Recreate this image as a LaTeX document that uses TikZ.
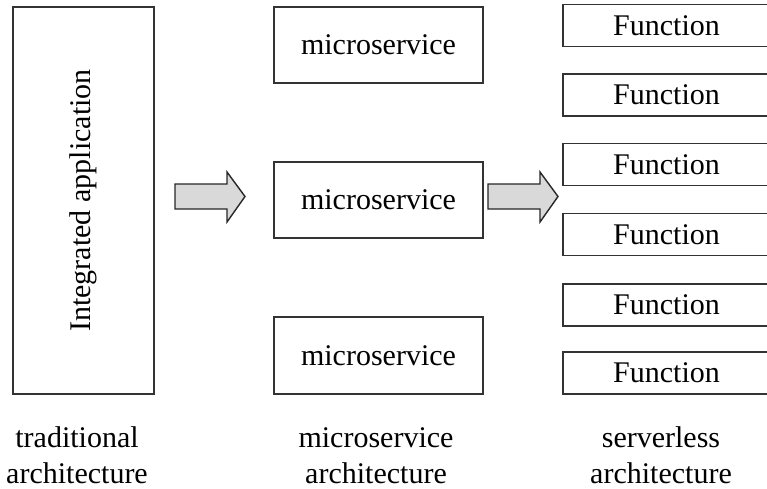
\documentclass[tikz,border=0pt]{standalone}
\usepackage{fontspec}
\setmainfont{Liberation Serif}
\begin{document}
\begin{tikzpicture}[x=1pt,y=-1pt,
  txt/.style={font=\fontsize{30}{36}\selectfont},
  box/.style={txt, draw=black!80, line width=1.4pt, inner sep=0pt},
  msbox/.style={box, minimum width=209pt, minimum height=76pt},
  fnbox/.style={box, minimum width=207pt, minimum height=42pt},
  blockarrow/.style={draw=black!85, line width=1.4pt, fill=black!15, line join=miter},
  caption/.style={txt, anchor=base, inner sep=0pt, text depth=0pt}]
\useasboundingbox (0,0) rectangle (767,489);
% traditional
\node[box, minimum width=141pt, minimum height=387pt] (app) at (83.5,200.5) {};
\node[txt, rotate=90] (apptext) at (app.center) {Integrated application};
% microservices
\node[msbox] (ms1) at (378.5,45) {microservice};
\node[msbox] (ms2) at (378.5,200) {microservice};
\node[msbox, minimum height=77pt] (ms3) at (378.5,355.5) {microservice};
% functions
\node[fnbox] (f1) at (666.5,25.5) {Function};
\node[fnbox] (f2) at (666.5,95) {Function};
\node[fnbox] (f3) at (666.5,164.5) {Function};
\node[fnbox] (f4) at (666.5,234.5) {Function};
\node[fnbox] (f5) at (666.5,305) {Function};
\node[fnbox] (f6) at (666.5,373) {Function};
% block arrows
\draw[blockarrow] (175,184)--(227,184)--(227,172)--(245,196.5)--(227,222)--(227,209)--(175,209)--cycle;
\draw[blockarrow] (488,184)--(540,184)--(540,172)--(558,196.5)--(540,222)--(540,209)--(488,209)--cycle;
% captions
\node[caption] (c1a) at (77,447) {traditional};
\node[caption] (c1b) at (77,483) {architecture};
\node[caption] (c2a) at (376,447) {microservice};
\node[caption] (c2b) at (376,483) {architecture};
\node[caption] (c3a) at (661,447) {serverless};
\node[caption] (c3b) at (661,483) {architecture};
\end{tikzpicture}
\end{document}
